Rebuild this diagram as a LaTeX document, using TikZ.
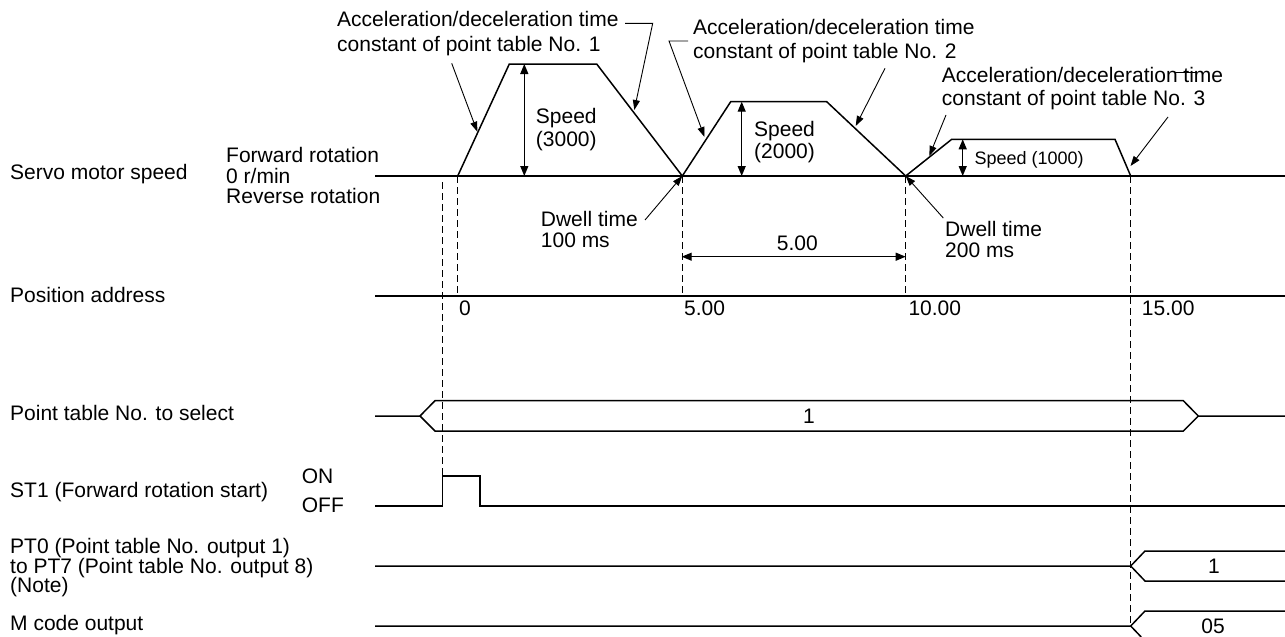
\documentclass[tikz,border=0pt]{standalone}
\usepackage{fontspec}
\setmainfont{Liberation Sans}
\usetikzlibrary{arrows.meta}
\begin{document}
\begin{tikzpicture}[x=1pt,y=-1pt,
  txt/.style={anchor=base west,inner sep=0pt,font=\fontsize{21}{24}\selectfont},
  txtc/.style={anchor=base,inner sep=0pt,font=\fontsize{21}{24}\selectfont},
  txts/.style={anchor=base west,inner sep=0pt,font=\fontsize{18}{21}\selectfont},
  sig/.style={line width=1.5pt,line join=miter},
  lead/.style={line width=0.9pt,-{Triangle[length=10pt,width=7pt]}},
  dimarr/.style={line width=1.2pt,{Triangle[length=10pt,width=8pt]}-{Triangle[length=10pt,width=8pt]}},
  guide/.style={line width=0.9pt,dash pattern=on 7pt off 4pt}]
\useasboundingbox (0,0) rectangle (1285,637);

% ---------- left labels ----------
\node[txt] (lServo) at (10,179.5) {Servo motor speed};
\node[txt] (lFwd) at (226,162.5) {Forward rotation};
\node[txt] (lZero) at (226,183.5) {0 r/min};
\node[txt] (lRev) at (226,203.5) {Reverse rotation};
\node[txt] (lPos) at (10,302) {Position address};
\node[txt] (lPT) at (10,420) {Point table No. to select};
\node[txt] (lST) at (10,497) {ST1 (Forward rotation start)};
\node[txt] (lON) at (301.7,483) {ON};
\node[txt] (lOFF) at (301.7,512) {OFF};
\node[txt] (lPT0a) at (10,553) {PT0 (Point table No. output 1)};
\node[txt] (lPT0b) at (10,573) {to PT7 (Point table No. output 8)};
\node[txt] (lPT0c) at (10,592.5) {(Note)};
\node[txt] (lM) at (10,630) {M code output};

% ---------- speed profile ----------
\coordinate (ax0) at (375,176);
\coordinate (ax1) at (1285,176);
\coordinate (a0) at (457.7,176);
\coordinate (a1) at (509.3,64);
\coordinate (a2) at (596.7,64);
\coordinate (a3) at (682.3,176);
\coordinate (b1) at (730.7,101.7);
\coordinate (b2) at (826.7,101.7);
\coordinate (b3) at (905.7,176);
\coordinate (c1) at (951.7,139.3);
\coordinate (c2) at (1115,139.3);
\coordinate (c3) at (1130.7,176);
\draw[sig] (ax0) -- (ax1);
\draw[sig] (a0) -- (a1) -- (a2) -- (a3) -- (b1) -- (b2) -- (b3) -- (c1) -- (c2) -- (c3);

% speed arrows
\coordinate (s1t) at (524.3,64);   \coordinate (s1b) at (524.3,176);
\coordinate (s2t) at (741.7,101.7); \coordinate (s2b) at (741.7,176);
\coordinate (s3t) at (962.7,139.3); \coordinate (s3b) at (962.7,176);
\draw[dimarr] (s1t) -- (s1b);
\draw[dimarr] (s2t) -- (s2b);
\draw[dimarr] (s3t) -- (s3b);
\node[txt] (sp1a) at (535.7,123) {Speed};
\node[txt] (sp1b) at (535.7,146) {(3000)};
\node[txt] (sp2a) at (754,136.7) {Speed};
\node[txt] (sp2b) at (754,158.5) {(2000)};
\node[txts] (sp3) at (974.3,164.3) {Speed (1000)};

% acceleration labels
\node[txt] (t1a) at (337,27) {Acceleration/deceleration time};
\node[txt] (t1b) at (337,51) {constant of point table No. 1};
\node[txt] (t2a) at (693,34) {Acceleration/deceleration time};
\node[txt] (t2b) at (693,58) {constant of point table No. 2};
\node[txt] (t3a) at (941.7,82) {Acceleration/deceleration time};
\node[txt] (t3b) at (941.7,105.5) {constant of point table No. 3};

% leaders
\coordinate (L1as) at (451.7,63.3); \coordinate (L1ae) at (477.3,131.7);
\coordinate (L1b0) at (625,23.3); \coordinate (L1b1) at (652.7,23.3); \coordinate (L1be) at (634.3,110);
\coordinate (L2a0) at (688,41); \coordinate (L2a1) at (669,41); \coordinate (L2ae) at (704.5,137);
\coordinate (L2bs) at (885,68.3); \coordinate (L2be) at (855.7,126);
\coordinate (L3as) at (946,115); \coordinate (L3ae) at (929.3,156);
\coordinate (L3bs) at (1168,117); \coordinate (L3be) at (1130.5,166);
\coordinate (L3x0) at (1175,72); \coordinate (L3x1) at (1197,72);
\draw[lead] (L1as) -- (L1ae);
\draw[lead] (L1b0) -- (L1b1) -- (L1be);
\draw[lead] (L2a0) -- (L2a1) -- (L2ae);
\draw[lead] (L2bs) -- (L2be);
\draw[lead] (L3as) -- (L3ae);
\draw[lead] (L3bs) -- (L3be);
\draw[line width=0.9pt] (L3x0) -- (L3x1);

% dwell times
\node[txt] (d1a) at (540.7,226.7) {Dwell time};
\node[txt] (d1b) at (540.7,247) {100 ms};
\node[txt] (d2a) at (945,236.7) {Dwell time};
\node[txt] (d2b) at (945,257) {200 ms};
\coordinate (D1s) at (645,220);
\coordinate (D2s) at (943.3,218);
\draw[lead] (D1s) -- (a3);
\draw[lead] (D2s) -- (b3);

% ---------- position address ----------
\coordinate (p0) at (375,296);
\coordinate (p1) at (1285,296);
\draw[sig] (p0) -- (p1);
\node[txt] (pa0) at (459,315) {0};
\node[txt] (pa5) at (684,315) {5.00};
\node[txt] (pa10) at (908.3,315) {10.00};
\node[txt] (pa15) at (1141.7,315) {15.00};

% dimension 5.00
\coordinate (m0) at (681.7,256.7);
\coordinate (m1) at (905.7,256.7);
\draw[dimarr] (m0) -- (m1);
\node[txtc] (m5) at (797.3,250) {5.00};

% ---------- guide lines ----------
\coordinate (g0t) at (442.7,182); \coordinate (g0b) at (442.7,476);
\coordinate (g1b) at (457.7,296);
\coordinate (g2b) at (682.3,296);
\coordinate (g3b) at (905.7,296);
\coordinate (g4b) at (1130.7,626);
\draw[guide] (g0t) -- (g0b);
\draw[guide] (a0) -- (g1b);
\draw[guide] (a3) -- (g2b);
\draw[guide] (b3) -- (g3b);
\draw[guide] (c3) -- (g4b);

% ---------- point table bus ----------
\coordinate (q0) at (375,416);
\coordinate (q1) at (420,416);
\coordinate (q2) at (435,400.7);
\coordinate (q3) at (435,431);
\coordinate (q4) at (1183.3,400.7);
\coordinate (q5) at (1183.3,431);
\coordinate (q6) at (1198.3,416);
\coordinate (q7) at (1285,416);
\draw[sig] (q0) -- (q1) -- (q2) -- (q4) -- (q6) -- (q7);
\draw[sig] (q1) -- (q3) -- (q5) -- (q6);
\node[txtc] (qv) at (809,423.5) {1};

% ---------- ST1 ----------
\coordinate (r0) at (375,506);
\coordinate (r1) at (442.7,506);
\coordinate (r2) at (442.7,476);
\coordinate (r3) at (480,476);
\coordinate (r4) at (480,506);
\coordinate (r5) at (1285,506);
\draw[sig] (r0) -- (r1) -- (r2) -- (r3) -- (r4) -- (r5);

% ---------- PT0-PT7 ----------
\coordinate (u0) at (375,566);
\coordinate (u1) at (1130.7,566);
\coordinate (u2) at (1145,551);
\coordinate (u3) at (1145,581);
\coordinate (u4) at (1285,551);
\coordinate (u5) at (1285,581);
\draw[sig] (u0) -- (u1) -- (u2) -- (u4);
\draw[sig] (u1) -- (u3) -- (u5);
\node[txtc] (uv) at (1214,573) {1};

% ---------- M code ----------
\coordinate (v0) at (375,626);
\coordinate (v1) at (1130.7,626);
\coordinate (v2) at (1145,611);
\coordinate (v3) at (1141.2,637);
\coordinate (v4) at (1285,611);
\draw[sig] (v0) -- (v1) -- (v2) -- (v4);
\draw[sig] (v1) -- (v3);
\node[txtc] (vv) at (1213,633.5) {05};
\end{tikzpicture}
\end{document}
